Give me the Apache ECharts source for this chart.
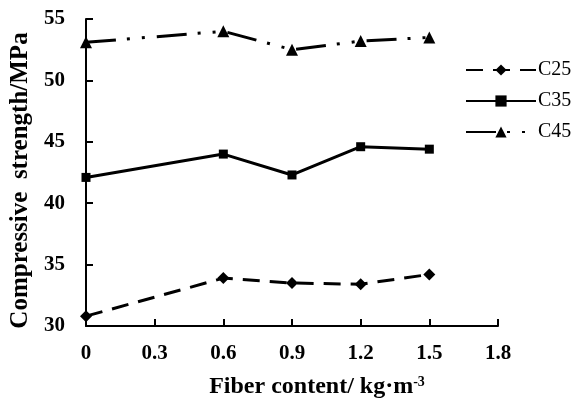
<!DOCTYPE html>
<html><head><meta charset="utf-8">
<script src="https://cdn.jsdelivr.net/npm/echarts@6/dist/echarts.min.js"></script>
<style>html,body{margin:0;padding:0;background:#fff}#c{width:572px;height:404px}</style>
</head><body><div id="c"></div>
<script>
var fiber = [0, 0.6, 0.9, 1.2, 1.5];
var c25 = [30.8, 33.9, 33.5, 33.4, 34.2];
var c35 = [42.1, 44.0, 42.3, 44.6, 44.4];
var c45 = [53.1, 54.0, 52.5, 53.2, 53.5];
var seriesNames = ['C25', 'C35', 'C45'];

function pairs(v){ return fiber.map(function(x,i){ return [x, v[i]]; }); }
var font = '"Liberation Serif","Times New Roman",serif';
var chart = echarts.init(document.getElementById('c'));
chart.setOption({
  animation:false,
  backgroundColor:'#fff',
  grid:{left:86,right:74,top:19,bottom:77},
  legend:{
    orient:'vertical', left:460, top:55, itemWidth:70, itemHeight:14, itemGap:11,
    textStyle:{fontFamily:font, fontSize:20, color:'#000', padding:[0,0,0,-3]},
    data:seriesNames
  },
  xAxis:{
    type:'value', min:0, max:1.8, interval:0.3,
    axisLine:{lineStyle:{color:'#000',width:2}},
    axisTick:{inside:true,length:7,lineStyle:{color:'#000',width:2}},
    splitLine:{show:false},
    axisLabel:{fontFamily:font,fontSize:21,fontWeight:'bold',color:'#000',margin:17,
      formatter:function(v){return v===0?'0':v.toFixed(1);}},
    name:'Fiber content/ kg·m{s|-3}', nameLocation:'middle', nameGap:49,
    nameTextStyle:{fontFamily:font,fontSize:24,fontWeight:'bold',color:'#000',padding:[0,0,0,50],
      rich:{s:{fontFamily:font,fontSize:14,fontWeight:'bold',color:'#000',verticalAlign:'top',padding:[0,0,10,0]}}}
  },
  yAxis:{
    type:'value', min:30, max:55, interval:5,
    axisLine:{show:true,lineStyle:{color:'#000',width:2}},
    axisTick:{show:true,inside:true,length:7,lineStyle:{color:'#000',width:2}},
    splitLine:{show:false},
    axisLabel:{fontFamily:font,fontSize:21,fontWeight:'bold',color:'#000',margin:21},
    name:'Compressive  strength/MPa', nameLocation:'middle', nameGap:41, nameRotate:90,
    nameTextStyle:{fontFamily:font,fontSize:25,fontWeight:'bold',color:'#000',padding:[0,16,0,0]}
  },
  series:[
    {name:'C25',type:'line',data:pairs(c25),symbol:'diamond',symbolSize:12,
      lineStyle:{color:'#000',width:3,type:[17,10]},itemStyle:{color:'#000'}},
    {name:'C35',type:'line',data:pairs(c35),symbol:'rect',symbolSize:9,
      lineStyle:{color:'#000',width:3,type:'solid'},itemStyle:{color:'#000'}},
    {name:'C45',type:'line',data:pairs(c45),symbol:'triangle',symbolSize:12,
      lineStyle:{color:'#000',width:3,type:[30,11,3,12,3,12]},itemStyle:{color:'#000'}}
  ]
});
</script></body></html>
